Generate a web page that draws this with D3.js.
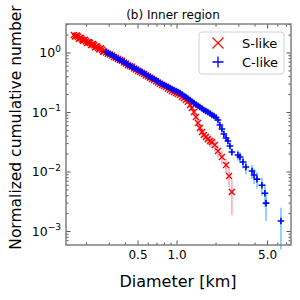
<!DOCTYPE html>
<html>
<head>
<meta charset="utf-8">
<script src="https://cdn.jsdelivr.net/npm/d3@7"></script>
<style>
  body { margin: 0; background: #fff; }
  text { font-family: "DejaVu Sans", sans-serif; }
</style>
</head>
<body>
<svg width="300" height="300"></svg>
<script>
//S-like diameters [km] and normalized cumulative number
const sDiam = [
  0.160, 0.163, 0.166, 0.169, 0.172, 0.175, 0.178, 0.1815, 0.185, 0.188,
  0.191, 0.195, 0.198, 0.202, 0.206, 0.2095, 0.213, 0.217, 0.221, 0.225,
  0.229, 0.233, 0.237, 0.241, 0.246, 0.250, 0.254, 0.259, 0.264, 0.268,
  0.273, 0.283, 0.293, 0.304, 0.315,
  0.326, 0.338, 0.350, 0.363, 0.376, 0.390, 0.404, 0.418, 0.434, 0.449,
  0.466, 0.482, 0.500, 0.518, 0.536, 0.556, 0.575, 0.597, 0.618, 0.641,
  0.664, 0.688, 0.713, 0.738, 0.766, 0.793, 0.822, 0.851, 0.882, 0.914,
  0.947, 0.982, 1.016, 1.054, 1.091, 1.13, 1.17, 1.21, 1.26, 1.30,
  1.35, 1.40, 1.45, 1.50, 1.56, 1.61, 1.67, 1.73, 1.80, 1.86,
  1.96, 2.07, 2.22, 2.39, 2.52, 2.65,
];
const sNum = [
  2.01, 1.89, 1.93, 1.96, 1.87, 1.73, 1.79, 1.79, 1.69, 1.60,
  1.63, 1.67, 1.56, 1.47, 1.52, 1.52, 1.47, 1.36, 1.39, 1.41,
  1.35, 1.25, 1.28, 1.29, 1.23, 1.16, 1.17, 1.20, 1.13, 1.06,
  1.06, 1.02, 0.975, 0.944, 0.91,
  0.857, 0.83, 0.79, 0.763, 0.738, 0.692, 0.666, 0.625, 0.605, 0.585,
  0.549, 0.53, 0.496, 0.480, 0.463, 0.444, 0.417, 0.403, 0.382, 0.364,
  0.352, 0.336, 0.319, 0.303, 0.289, 0.279, 0.267, 0.253, 0.240, 0.229,
  0.221, 0.212, 0.205, 0.196, 0.182, 0.174, 0.162, 0.151, 0.134, 0.119,
  0.102, 0.084, 0.0666, 0.0549, 0.0470, 0.0418, 0.0388, 0.0359, 0.0332, 0.0319,
  0.0284, 0.0225, 0.0179, 0.0131, 0.0086, 0.0046,
];
const sErr = [
  0.04, 0.04, 0.04, 0.04, 0.04, 0.036, 0.036, 0.035, 0.034, 0.033,
  0.032, 0.032, 0.031, 0.031, 0.031, 0.03, 0.029, 0.028, 0.028, 0.028,
  0.027, 0.026, 0.026, 0.026, 0.025, 0.024, 0.023, 0.023, 0.022, 0.021,
  0.021, 0.02, 0.02, 0.019, 0.018,
  0.017, 0.016, 0.016, 0.015, 0.015, 0.014, 0.013, 0.013, 0.012, 0.012,
  0.014, 0.013, 0.012, 0.012, 0.012, 0.011, 0.011, 0.010, 0.010, 0.010,
  0.011, 0.011, 0.010, 0.010, 0.010, 0.010, 0.010, 0.010, 0.009, 0.009,
  0.010, 0.010, 0.010, 0.010, 0.010, 0.011, 0.011, 0.012, 0.012, 0.013,
  0.012, 0.011, 0.010, 0.009, 0.008, 0.0075, 0.0075, 0.007, 0.0068, 0.0066,
  0.0065, 0.0052, 0.0045, 0.0035, 0.003, 0.0027,
];

//C-like
const cDiam = [
  0.283, 0.293, 0.304, 0.315, 0.326, 0.338, 0.350, 0.363, 0.376, 0.390,
  0.404, 0.418, 0.434, 0.449, 0.466, 0.482, 0.500, 0.518, 0.536, 0.556,
  0.575, 0.597, 0.618, 0.641, 0.664, 0.688, 0.713, 0.738, 0.766, 0.793,
  0.822, 0.851, 0.882, 0.914, 0.947, 0.982, 1.016, 1.054, 1.091, 1.13,
  1.17, 1.21, 1.26, 1.30, 1.35, 1.40, 1.45, 1.50, 1.56, 1.61,
  1.67, 1.73, 1.80, 1.86, 1.93, 2.00, 2.07, 2.14, 2.22, 2.30,
  2.39, 2.47, 2.56, 2.65, 2.95, 3.06, 3.23, 3.40, 3.79, 3.93,
  4.14, 4.52, 4.77, 4.86, 6.34,
];
const cNum = [
  1.04, 1.00, 0.962, 0.926, 0.873, 0.840, 0.793, 0.763, 0.734, 0.706,
  0.666, 0.641, 0.605, 0.582, 0.560, 0.538, 0.518, 0.498, 0.480, 0.453,
  0.435, 0.411, 0.395, 0.380, 0.366, 0.345, 0.332, 0.313, 0.301, 0.290,
  0.279, 0.268, 0.258, 0.248, 0.239, 0.230, 0.221, 0.213, 0.201, 0.189,
  0.182, 0.172, 0.162, 0.153, 0.144, 0.136, 0.129, 0.124, 0.1165, 0.110,
  0.106, 0.102, 0.096, 0.091, 0.0873, 0.0825, 0.0748, 0.0617, 0.0528, 0.0435,
  0.0373, 0.0332, 0.0273, 0.0217, 0.0193, 0.0179, 0.0147, 0.0121, 0.0104, 0.0089,
  0.0076, 0.0060, 0.0044, 0.0030, 0.0015,
];
const cErr = [
  0.021, 0.02, 0.019, 0.019, 0.017, 0.017, 0.016, 0.015, 0.015, 0.014,
  0.013, 0.013, 0.012, 0.012, 0.011, 0.011, 0.010, 0.010, 0.010, 0.009,
  0.009, 0.008, 0.008, 0.008, 0.008, 0.008, 0.008, 0.008, 0.008, 0.008,
  0.008, 0.008, 0.008, 0.008, 0.008, 0.008, 0.008, 0.008, 0.008, 0.008,
  0.008, 0.008, 0.008, 0.008, 0.008, 0.008, 0.008, 0.007, 0.007, 0.007,
  0.0068, 0.0066, 0.0065, 0.0064, 0.0063, 0.0062, 0.006, 0.0055, 0.005, 0.0045,
  0.0042, 0.0038, 0.0033, 0.0028, 0.0039, 0.0036, 0.0032, 0.003, 0.0028, 0.0026,
  0.0023, 0.002, 0.0018, 0.0015, 0.001,
];

const xTicks = [0.5, 1.0, 5.0];
const xTickLabels = ["0.5", "1.0", "5.0"];
const yTicks = [1e-3, 1e-2, 1e-1, 1e0];
const yTickExp = ["\u22123", "\u22122", "\u22121", "0"];
const seriesNames = ["S-like", "C-like"];

const svg = d3.select("svg"),
  pL = 66, pR = 291, pT = 24, pB = 245,
  x = d3.scaleLog().domain([0.139, 7.58]).range([pL, pR]),
  y = d3.scaleLog().domain([5.93e-4, 3.07]).range([pB, pT]);

const toPoints = (ds, ns, es) => ds.map((d, i) => ({ d: d, n: ns[i], e: es[i] }));
const sData = toPoints(sDiam, sNum, sErr),
  cData = toPoints(cDiam, cNum, cErr);

//error bars first
const drawErr = (data, color) => {
  svg.append("g")
    .attr("stroke", color)
    .attr("stroke-width", 1.8)
    .selectAll("line")
    .data(data)
    .join("line")
    .attr("x1", (p) => x(p.d))
    .attr("x2", (p) => x(p.d))
    .attr("y1", (p) => y(p.n + p.e))
    .attr("y2", (p) => y(Math.max(p.n - p.e, 1e-5)));
};
drawErr(sData, "#ffb3bf");
drawErr(cData, "#87cefa");

const crossPath = (r) => `M${-r},${-r}L${r},${r}M${-r},${r}L${r},${-r}`;
const plusPath = (r) => `M${-r},0L${r},0M0,${-r}L0,${r}`;

svg.append("g")
  .attr("stroke", "#ff0000")
  .attr("stroke-width", 1.4)
  .attr("fill", "none")
  .selectAll("path")
  .data(sData)
  .join("path")
  .attr("transform", (p) => `translate(${x(p.d)},${y(p.n)})`)
  .attr("d", crossPath(3));

svg.append("g")
  .attr("stroke", "#0000ff")
  .attr("stroke-width", 1.6)
  .attr("fill", "none")
  .selectAll("path")
  .data(cData)
  .join("path")
  .attr("transform", (p) => `translate(${x(p.d)},${y(p.n)})`)
  .attr("d", plusPath(3.3));

//ticks, inward on all four sides
const xMinor = x.ticks().filter((t) => !xTicks.some((m) => Math.abs(m - t) < 1e-9));
const yMinor = y.ticks().filter((t) => !yTicks.some((m) => Math.abs(m - t) / m < 1e-6));
const ticks = svg.append("g").attr("stroke", "#444").attr("stroke-width", 0.9);
const addX = (vals, len) => {
  vals.forEach((v) => {
    ticks.append("line").attr("x1", x(v)).attr("x2", x(v)).attr("y1", pB).attr("y2", pB - len);
    ticks.append("line").attr("x1", x(v)).attr("x2", x(v)).attr("y1", pT).attr("y2", pT + len);
  });
};
const addY = (vals, len) => {
  vals.forEach((v) => {
    ticks.append("line").attr("y1", y(v)).attr("y2", y(v)).attr("x1", pL).attr("x2", pL + len);
    ticks.append("line").attr("y1", y(v)).attr("y2", y(v)).attr("x1", pR).attr("x2", pR - len);
  });
};
addX(xTicks, 4.5);
addX(xMinor, 2.5);
addY(yTicks, 4.5);
addY(yMinor, 2.5);

svg.append("rect")
  .attr("x", pL).attr("y", pT)
  .attr("width", pR - pL).attr("height", pB - pT)
  .attr("fill", "none")
  .attr("stroke", "#808080")
  .attr("stroke-width", 1.5);

//tick labels
svg.append("g")
  .attr("font-size", 12)
  .attr("text-anchor", "middle")
  .selectAll("text")
  .data(xTicks)
  .join("text")
  .attr("x", (d) => x(d))
  .attr("y", 259)
  .text((d, i) => xTickLabels[i]);

const yl = svg.append("g")
  .attr("font-size", 12.5)
  .attr("text-anchor", "end")
  .selectAll("text")
  .data(yTicks)
  .join("text")
  .attr("x", 61)
  .attr("y", (d) => y(d) + 4.5);
yl.append("tspan").text("10");
yl.append("tspan")
  .attr("font-size", 9)
  .attr("dy", -5.5)
  .text((d, i) => yTickExp[i]);

//labels
svg.append("text")
  .attr("x", 173).attr("y", 19)
  .attr("text-anchor", "middle")
  .attr("font-size", 12)
  .text("(b) Inner region");
svg.append("text")
  .attr("x", 178).attr("y", 287)
  .attr("text-anchor", "middle")
  .attr("font-size", 16)
  .text("Diameter [km]");
svg.append("text")
  .attr("transform", "translate(21,127.5) rotate(-90)")
  .attr("text-anchor", "middle")
  .attr("font-size", 15.5)
  .text("Normalized cumulative number");

//legend
const lg = svg.append("g");
lg.append("rect")
  .attr("x", 199).attr("y", 32)
  .attr("width", 85).attr("height", 42)
  .attr("rx", 3)
  .attr("fill", "white").attr("fill-opacity", 0.8)
  .attr("stroke", "#d0d0d0");
lg.append("path")
  .attr("transform", "translate(218,43)")
  .attr("d", crossPath(5.5))
  .attr("stroke", "#ff0000").attr("stroke-width", 1.1).attr("fill", "none");
lg.append("path")
  .attr("transform", "translate(218,62)")
  .attr("d", plusPath(5.5))
  .attr("stroke", "#0000ff").attr("stroke-width", 1.3).attr("fill", "none");
lg.selectAll("text.lab")
  .data(seriesNames)
  .join("text")
  .attr("class", "lab")
  .attr("x", 242)
  .attr("y", (d, i) => 48 + i * 19)
  .attr("font-size", 13)
  .text((d) => d);
</script>
</body>
</html>
